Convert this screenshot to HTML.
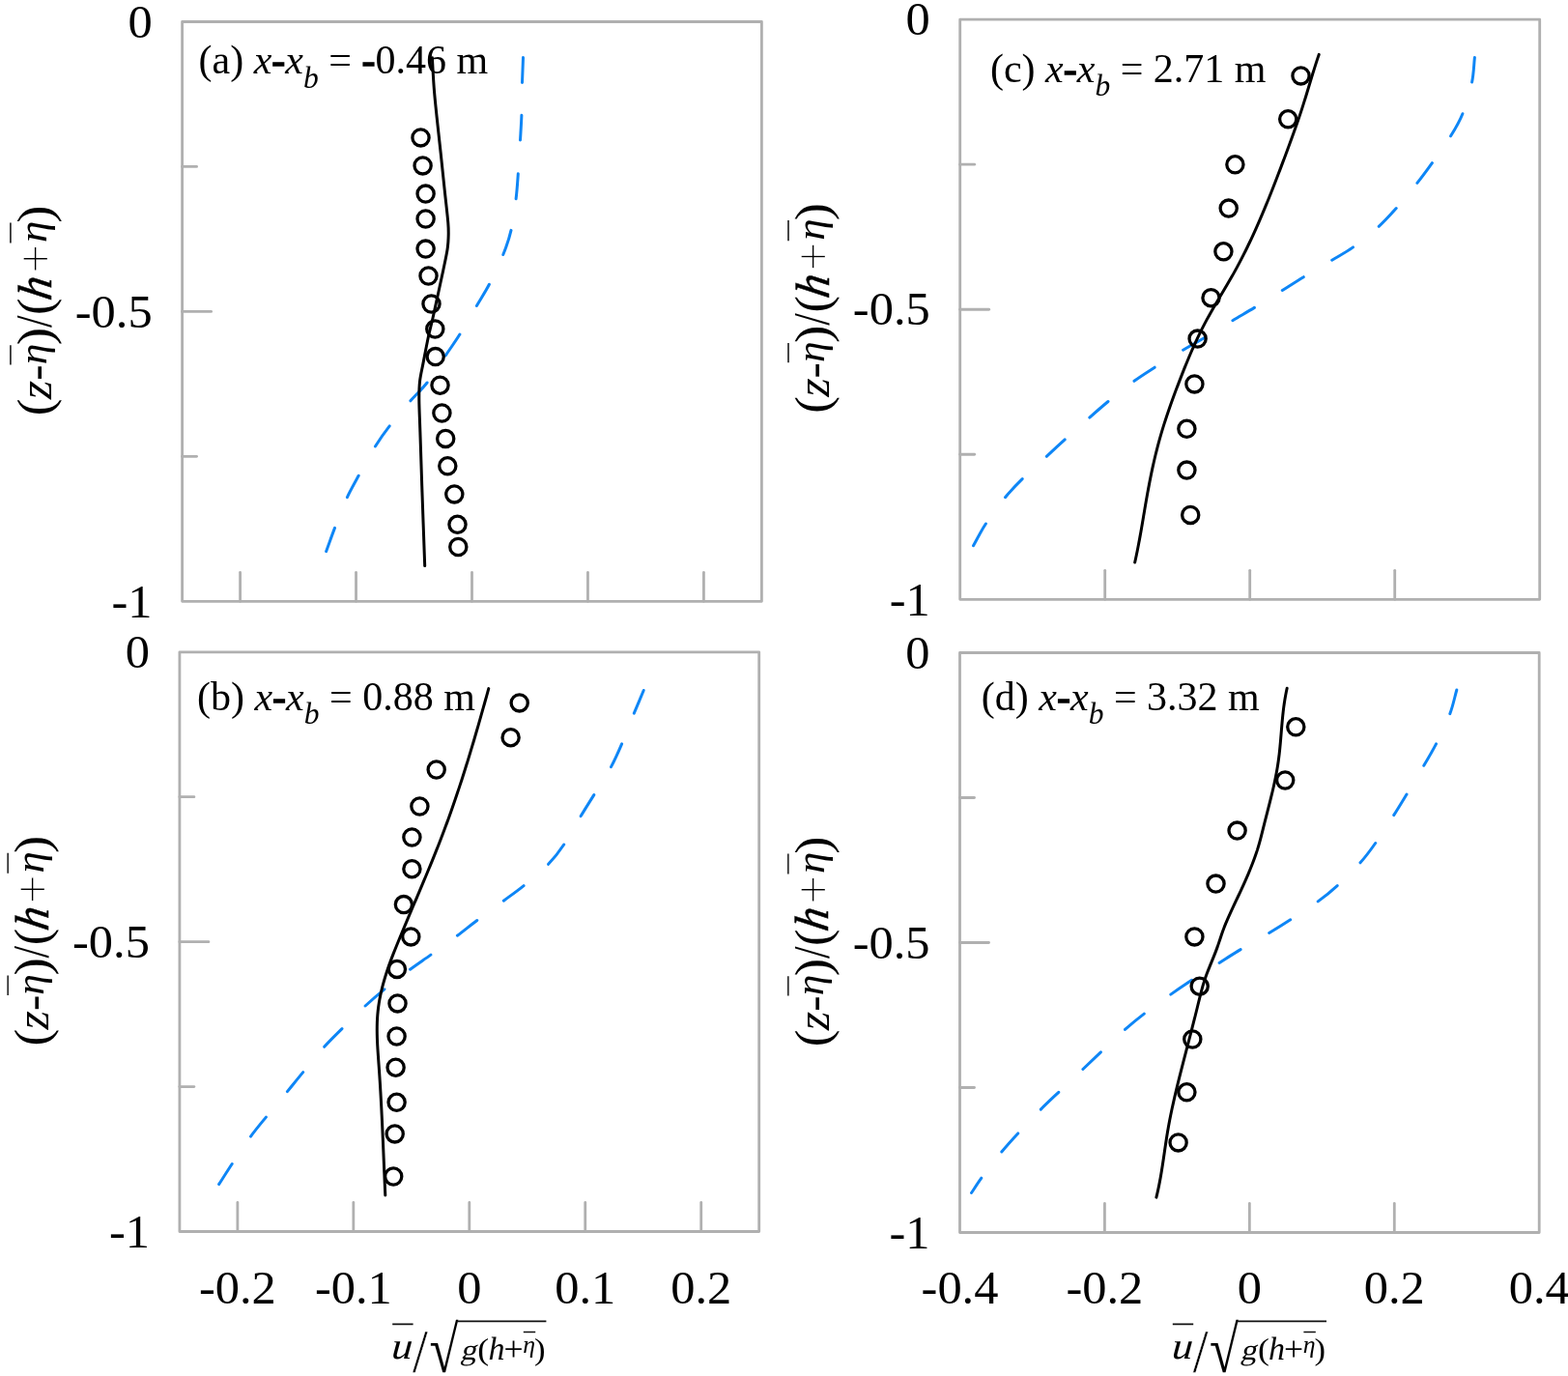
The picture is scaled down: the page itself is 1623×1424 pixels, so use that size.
<!DOCTYPE html>
<html><head><meta charset="utf-8"><title>Velocity profiles</title>
<style>html,body{margin:0;padding:0;background:#fff;overflow:hidden}svg{display:block}text{font-family:"Liberation Serif","Times New Roman",serif;fill:#000}</style></head><body>
<svg width="1623" height="1424" viewBox="0 0 1623 1424">
<rect width="1623" height="1424" fill="#fff"/>
<g><rect x="188.60" y="22.50" width="599.80" height="599.80" fill="none" stroke="#b0b0b0" stroke-width="2.8" stroke-linejoin="round"/><line x1="188.60" y1="172.45" x2="203.60" y2="172.45" stroke="#b0b0b0" stroke-width="2.8" stroke-linecap="round"/><line x1="188.60" y1="322.40" x2="218.60" y2="322.40" stroke="#b0b0b0" stroke-width="2.8" stroke-linecap="round"/><line x1="188.60" y1="472.35" x2="203.60" y2="472.35" stroke="#b0b0b0" stroke-width="2.8" stroke-linecap="round"/><line x1="248.58" y1="622.30" x2="248.58" y2="592.30" stroke="#b0b0b0" stroke-width="2.8" stroke-linecap="round"/><line x1="368.54" y1="622.30" x2="368.54" y2="592.30" stroke="#b0b0b0" stroke-width="2.8" stroke-linecap="round"/><line x1="488.50" y1="622.30" x2="488.50" y2="592.30" stroke="#b0b0b0" stroke-width="2.8" stroke-linecap="round"/><line x1="608.46" y1="622.30" x2="608.46" y2="592.30" stroke="#b0b0b0" stroke-width="2.8" stroke-linecap="round"/><line x1="728.42" y1="622.30" x2="728.42" y2="592.30" stroke="#b0b0b0" stroke-width="2.8" stroke-linecap="round"/></g>
<text transform="translate(157.60 38.70) scale(1.040 1)" font-size="48.5" text-anchor="end">0</text>
<text transform="translate(157.60 338.60) scale(1.040 1)" font-size="48.5" text-anchor="end">-0.5</text>
<text transform="translate(157.60 638.50) scale(1.040 1)" font-size="48.5" text-anchor="end">-1</text>
<path d="M541.5 59.6C541.2 68.2 540.8 76.9 540.5 85.5M539.9 119.3C539.6 127.9 539.0 136.4 538.5 145.0M536.3 179.8C535.7 188.4 535.2 197.1 534.1 205.7M529.0 238.4C527.0 247.0 524.1 255.4 520.8 263.5M506.4 294.3C502.5 301.9 497.7 309.1 493.4 316.5M475.9 346.0C471.3 353.4 466.2 360.5 461.3 367.8M442.1 396.0C436.9 402.7 430.5 408.4 424.9 414.8M403.2 440.9C397.9 447.7 393.0 454.7 388.4 462.0M371.2 492.2C367.1 499.6 362.9 506.9 359.4 514.6M346.5 546.4C343.4 554.5 340.6 562.6 337.6 570.7" fill="none" stroke="#0e86f6" stroke-width="3.0" stroke-linecap="round"/>
<path d="M447.40 59.70 C447.70 64.85 448.43 80.55 449.20 90.60 C449.97 100.65 450.82 108.52 452.00 120.00 C453.18 131.48 454.93 146.73 456.30 159.50 C457.67 172.27 458.95 184.75 460.20 196.60 C461.45 208.45 463.15 222.37 463.80 230.60 C464.45 238.83 464.23 241.37 464.10 246.00 C463.97 250.63 463.90 252.73 463.00 258.40 C462.10 264.07 460.28 272.40 458.70 280.00 C457.12 287.60 455.32 295.67 453.50 304.00 C451.68 312.33 449.47 322.67 447.80 330.00 C446.13 337.33 445.13 340.35 443.50 348.00 C441.87 355.65 439.50 368.08 438.00 375.90 C436.50 383.72 435.20 388.58 434.50 394.90 C433.80 401.22 433.73 405.02 433.80 413.80 C433.87 422.58 434.37 431.43 434.90 447.60 C435.43 463.77 436.20 487.80 437.00 510.80 C437.80 533.80 439.25 573.13 439.70 585.60" fill="none" stroke="#000" stroke-width="3" stroke-linecap="round" stroke-linejoin="round"/>
<g fill="none" stroke="#000" stroke-width="3.3"><circle cx="435.5" cy="142.4" r="8.6"/><circle cx="437.6" cy="171.4" r="8.6"/><circle cx="440.6" cy="200.6" r="8.6"/><circle cx="440.6" cy="226.5" r="8.6"/><circle cx="440.6" cy="257.6" r="8.6"/><circle cx="443.5" cy="285.5" r="8.6"/><circle cx="446.5" cy="314.5" r="8.6"/><circle cx="450.3" cy="340.5" r="8.6"/><circle cx="450.7" cy="369.1" r="8.6"/><circle cx="455.5" cy="398.7" r="8.6"/><circle cx="457.4" cy="427.5" r="8.6"/><circle cx="461.2" cy="453.9" r="8.6"/><circle cx="463.3" cy="482.3" r="8.6"/><circle cx="470.3" cy="511.4" r="8.6"/><circle cx="473.5" cy="542.8" r="8.6"/><circle cx="474.3" cy="566.0" r="8.6"/></g>
<text x="205.55" y="76.40" font-size="42">(a) <tspan font-style="italic">x</tspan><tspan stroke="#000" stroke-width="1.3">-</tspan><tspan font-style="italic">x</tspan><tspan font-style="italic" font-size="31.5" dy="14.1">b</tspan><tspan dy="-14.1"> = </tspan><tspan stroke="#000" stroke-width="1.3">-</tspan>0.46 m</text>
<g><text transform="translate(53.10 430.14) rotate(-90) scale(1.0515 1)" font-size="50.73">(</text><text transform="translate(52.70 413.14) rotate(-90) scale(1.0494 1)" font-size="47.50" font-style="italic">z</text><text transform="translate(52.75 393.81) rotate(-90) scale(1.0146 1)" font-size="48.19">-</text><text transform="translate(47.53 377.35) rotate(-90) scale(1.0698 1)" font-size="40.61" font-style="italic">η</text><text transform="translate(52.87 357.28) rotate(-90) scale(1.0970 1)" font-size="50.40">)</text><text transform="translate(52.98 339.10) rotate(-90) scale(0.8570 1)" font-size="52.92">/</text><text transform="translate(52.87 325.91) rotate(-90) scale(1.0429 1)" font-size="50.40">(</text><text transform="translate(52.50 309.09) rotate(-90) translate(0 -17.15) skewX(-9.0) translate(0 17.15) scale(0.9483 1)" font-size="49.43" font-style="italic" stroke="#000" stroke-width="0.5">h</text><text transform="translate(54.73 282.85) rotate(-90) scale(0.9548 1)" font-size="55.82" stroke="#fff" stroke-width="1.3">+</text><text transform="translate(47.78 251.10) rotate(-90) scale(1.0855 1)" font-size="41.34" font-style="italic">η</text><text transform="translate(53.00 230.67) rotate(-90) scale(1.0821 1)" font-size="50.73">)</text></g>
<path d="M10.90 357.20V377.60M10.90 230.40V251.50" stroke="#333" stroke-width="1.8" fill="none"/>
<g><rect x="185.90" y="674.80" width="599.80" height="599.70" fill="none" stroke="#b0b0b0" stroke-width="2.8" stroke-linejoin="round"/><line x1="185.90" y1="824.72" x2="200.90" y2="824.72" stroke="#b0b0b0" stroke-width="2.8" stroke-linecap="round"/><line x1="185.90" y1="974.65" x2="215.90" y2="974.65" stroke="#b0b0b0" stroke-width="2.8" stroke-linecap="round"/><line x1="185.90" y1="1124.58" x2="200.90" y2="1124.58" stroke="#b0b0b0" stroke-width="2.8" stroke-linecap="round"/><line x1="245.88" y1="1274.50" x2="245.88" y2="1244.50" stroke="#b0b0b0" stroke-width="2.8" stroke-linecap="round"/><line x1="365.84" y1="1274.50" x2="365.84" y2="1244.50" stroke="#b0b0b0" stroke-width="2.8" stroke-linecap="round"/><line x1="485.80" y1="1274.50" x2="485.80" y2="1244.50" stroke="#b0b0b0" stroke-width="2.8" stroke-linecap="round"/><line x1="605.76" y1="1274.50" x2="605.76" y2="1244.50" stroke="#b0b0b0" stroke-width="2.8" stroke-linecap="round"/><line x1="725.72" y1="1274.50" x2="725.72" y2="1244.50" stroke="#b0b0b0" stroke-width="2.8" stroke-linecap="round"/></g>
<text transform="translate(154.90 691.00) scale(1.040 1)" font-size="48.5" text-anchor="end">0</text>
<text transform="translate(154.90 990.85) scale(1.040 1)" font-size="48.5" text-anchor="end">-0.5</text>
<text transform="translate(154.90 1290.70) scale(1.040 1)" font-size="48.5" text-anchor="end">-1</text>
<text transform="translate(245.88 1349.00) scale(1.040 1)" font-size="48.5" text-anchor="middle">-0.2</text>
<text transform="translate(365.84 1349.00) scale(1.040 1)" font-size="48.5" text-anchor="middle">-0.1</text>
<text transform="translate(485.80 1349.00) scale(1.040 1)" font-size="48.5" text-anchor="middle">0</text>
<text transform="translate(605.76 1349.00) scale(1.040 1)" font-size="48.5" text-anchor="middle">0.1</text>
<text transform="translate(725.72 1349.00) scale(1.040 1)" font-size="48.5" text-anchor="middle">0.2</text>
<path d="M666.2 714.5C662.9 722.4 659.6 730.3 656.3 738.2M643.6 769.9C640.2 777.9 636.7 785.9 632.5 793.6M614.8 822.6C610.3 829.9 605.6 837.2 601.2 844.6M583.7 874.0C578.9 881.2 573.6 888.1 567.6 894.3M542.1 916.6C535.4 922.1 528.3 927.0 521.3 932.2M493.8 952.5C486.9 957.6 480.3 963.1 473.4 968.2M445.9 988.1C438.8 993.2 431.5 998.0 424.5 1003.2M397.9 1023.8C391.1 1029.3 384.5 1035.0 378.1 1041.0M354.0 1064.6C347.8 1070.8 341.5 1076.8 335.7 1083.3M313.7 1109.6C308.2 1116.2 302.8 1123.0 297.4 1129.6M275.4 1156.1C270.0 1162.7 264.5 1169.2 259.5 1176.1M240.2 1204.5C235.6 1211.5 231.1 1218.6 226.6 1225.6" fill="none" stroke="#0e86f6" stroke-width="3.0" stroke-linecap="round"/>
<path d="M505.78 712.60 L504.68 716.57 L503.58 720.54 L502.47 724.52 L501.36 728.49 L500.25 732.46 L499.13 736.43 L498.00 740.40 L496.87 744.38 L495.73 748.35 L494.59 752.32 L493.44 756.29 L492.28 760.26 L491.12 764.24 L489.94 768.21 L488.76 772.18 L487.56 776.15 L486.36 780.12 L485.15 784.10 L483.93 788.07 L482.69 792.04 L481.45 796.01 L480.19 799.98 L478.92 803.96 L477.64 807.93 L476.34 811.90 L475.03 815.87 L473.71 819.84 L472.37 823.82 L471.02 827.79 L469.65 831.76 L468.27 835.73 L466.87 839.70 L465.46 843.68 L464.03 847.65 L462.58 851.62 L461.11 855.59 L459.63 859.56 L458.12 863.53 L456.60 867.51 L455.06 871.48 L453.50 875.45 L451.93 879.42 L450.34 883.39 L448.74 887.37 L447.12 891.34 L445.49 895.31 L443.85 899.28 L442.21 903.25 L440.55 907.23 L438.89 911.20 L437.22 915.17 L435.54 919.14 L433.86 923.11 L432.17 927.09 L430.49 931.06 L428.80 935.03 L427.11 939.00 L425.43 942.97 L423.74 946.95 L422.06 950.92 L420.39 954.89 L418.71 958.86 L417.05 962.83 L415.39 966.81 L413.74 970.78 L412.10 974.75 L410.48 978.72 L408.87 982.69 L407.30 986.67 L405.76 990.64 L404.26 994.61 L402.82 998.58 L401.43 1002.55 L400.11 1006.53 L398.85 1010.50 L397.66 1014.47 L396.55 1018.44 L395.52 1022.41 L394.57 1026.39 L393.70 1030.36 L392.93 1034.33 L392.25 1038.30 L391.67 1042.27 L391.20 1046.25 L390.83 1050.22 L390.55 1054.19 L390.37 1058.16 L390.28 1062.13 L390.25 1066.11 L390.30 1070.08 L390.40 1074.05 L390.55 1078.02 L390.75 1081.99 L390.98 1085.97 L391.23 1089.94 L391.51 1093.91 L391.79 1097.88 L392.08 1101.85 L392.36 1105.83 L392.63 1109.80 L392.89 1113.77 L393.15 1117.74 L393.40 1121.71 L393.64 1125.68 L393.87 1129.66 L394.09 1133.63 L394.31 1137.60 L394.53 1141.57 L394.74 1145.54 L394.94 1149.52 L395.14 1153.49 L395.33 1157.46 L395.52 1161.43 L395.71 1165.40 L395.89 1169.38 L396.07 1173.35 L396.24 1177.32 L396.42 1181.29 L396.59 1185.26 L396.76 1189.24 L396.93 1193.21 L397.09 1197.18 L397.26 1201.15 L397.43 1205.12 L397.59 1209.10 L397.76 1213.07 L397.93 1217.04 L398.09 1221.01 L398.26 1224.98 L398.44 1228.96 L398.61 1232.93 L398.79 1236.90" fill="none" stroke="#000" stroke-width="3" stroke-linecap="round" stroke-linejoin="round"/>
<g fill="none" stroke="#000" stroke-width="3.3"><circle cx="537.7" cy="727.4" r="8.6"/><circle cx="528.6" cy="763.2" r="8.6"/><circle cx="451.7" cy="796.5" r="8.6"/><circle cx="434.4" cy="834.5" r="8.6"/><circle cx="426.4" cy="866.5" r="8.6"/><circle cx="426.4" cy="899.2" r="8.6"/><circle cx="417.9" cy="936.1" r="8.6"/><circle cx="425.3" cy="969.4" r="8.6"/><circle cx="410.9" cy="1002.9" r="8.6"/><circle cx="411.5" cy="1038.4" r="8.6"/><circle cx="410.6" cy="1072.5" r="8.6"/><circle cx="409.6" cy="1104.7" r="8.6"/><circle cx="410.6" cy="1140.8" r="8.6"/><circle cx="408.7" cy="1173.4" r="8.6"/><circle cx="407.2" cy="1217.5" r="8.6"/></g>
<text x="203.95" y="735.00" font-size="42">(b) <tspan font-style="italic">x</tspan><tspan stroke="#000" stroke-width="1.3">-</tspan><tspan font-style="italic">x</tspan><tspan font-style="italic" font-size="31.5" dy="14.1">b</tspan><tspan dy="-14.1"> = </tspan>0.88 m</text>
<g><text transform="translate(50.40 1082.44) rotate(-90) scale(1.0515 1)" font-size="50.73">(</text><text transform="translate(50.00 1065.44) rotate(-90) scale(1.0494 1)" font-size="47.50" font-style="italic">z</text><text transform="translate(50.05 1046.11) rotate(-90) scale(1.0146 1)" font-size="48.19">-</text><text transform="translate(44.83 1029.65) rotate(-90) scale(1.0698 1)" font-size="40.61" font-style="italic">η</text><text transform="translate(50.17 1009.58) rotate(-90) scale(1.0970 1)" font-size="50.40">)</text><text transform="translate(50.28 991.40) rotate(-90) scale(0.8570 1)" font-size="52.92">/</text><text transform="translate(50.17 978.21) rotate(-90) scale(1.0429 1)" font-size="50.40">(</text><text transform="translate(49.80 961.39) rotate(-90) translate(0 -17.15) skewX(-9.0) translate(0 17.15) scale(0.9483 1)" font-size="49.43" font-style="italic" stroke="#000" stroke-width="0.5">h</text><text transform="translate(52.03 935.15) rotate(-90) scale(0.9548 1)" font-size="55.82" stroke="#fff" stroke-width="1.3">+</text><text transform="translate(45.08 903.40) rotate(-90) scale(1.0855 1)" font-size="41.34" font-style="italic">η</text><text transform="translate(50.30 882.97) rotate(-90) scale(1.0821 1)" font-size="50.73">)</text></g>
<path d="M8.20 1009.50V1029.90M8.20 882.70V903.80" stroke="#333" stroke-width="1.8" fill="none"/>
<g><text transform="translate(405.43 1405.95) translate(0 -8.65) skewX(-4.0) translate(0 8.65) scale(1.1243 1)" font-size="38.67" font-style="italic">u</text><text transform="translate(427.10 1419.98) scale(0.8972 1)" font-size="63.38" stroke="#fff" stroke-width="0.4">/</text><text transform="translate(444.44 1420.43) scale(0.7978 1)" font-size="68.31">√</text><text transform="translate(477.18 1407.12) translate(0 -4.47) skewX(-13.0) translate(0 4.47) scale(1.1020 1)" font-size="30.04">g</text><text transform="translate(494.33 1406.89) scale(1.1357 1)" font-size="31.54">(</text><text transform="translate(505.47 1406.80) scale(1.0241 1)" font-size="33.29" font-style="italic">h</text><text transform="translate(521.52 1408.25) scale(0.9951 1)" font-size="35.85">+</text><text transform="translate(541.18 1399.79) scale(1.0567 1)" font-size="24.39" font-style="italic">η</text><text transform="translate(552.98 1406.89) scale(1.0986 1)" font-size="31.54">)</text></g>
<path d="M406.20 1370.4H427.60M473.00 1367.4H565.40M541.80 1378.5H554.20" stroke="#111" stroke-width="1.6" fill="none"/>
<g><rect x="993.70" y="20.20" width="600.00" height="600.10" fill="none" stroke="#b0b0b0" stroke-width="2.8" stroke-linejoin="round"/><line x1="993.70" y1="170.22" x2="1008.70" y2="170.22" stroke="#b0b0b0" stroke-width="2.8" stroke-linecap="round"/><line x1="993.70" y1="320.25" x2="1023.70" y2="320.25" stroke="#b0b0b0" stroke-width="2.8" stroke-linecap="round"/><line x1="993.70" y1="470.27" x2="1008.70" y2="470.27" stroke="#b0b0b0" stroke-width="2.8" stroke-linecap="round"/><line x1="1143.70" y1="620.30" x2="1143.70" y2="590.30" stroke="#b0b0b0" stroke-width="2.8" stroke-linecap="round"/><line x1="1293.70" y1="620.30" x2="1293.70" y2="590.30" stroke="#b0b0b0" stroke-width="2.8" stroke-linecap="round"/><line x1="1443.70" y1="620.30" x2="1443.70" y2="590.30" stroke="#b0b0b0" stroke-width="2.8" stroke-linecap="round"/></g>
<text transform="translate(962.70 36.40) scale(1.040 1)" font-size="48.5" text-anchor="end">0</text>
<text transform="translate(962.70 336.45) scale(1.040 1)" font-size="48.5" text-anchor="end">-0.5</text>
<text transform="translate(962.70 636.50) scale(1.040 1)" font-size="48.5" text-anchor="end">-1</text>
<path d="M1526.4 59.4C1525.5 67.9 1525.4 76.6 1523.6 85.0M1513.9 117.7C1510.7 125.8 1506.2 133.4 1501.6 140.8M1482.4 168.6C1477.4 175.6 1472.3 182.6 1466.9 189.4M1445.2 215.5C1439.4 222.0 1433.6 228.5 1427.2 234.3M1400.5 255.9C1393.6 260.9 1386.0 264.8 1378.7 269.2M1349.3 286.7C1341.9 291.2 1334.6 295.9 1327.3 300.5M1298.4 318.4C1291.0 322.9 1283.4 327.2 1275.9 331.7M1247.2 349.3C1239.8 353.8 1232.0 357.7 1224.6 362.2M1195.2 380.2C1188.1 384.8 1180.8 389.3 1174.0 394.3M1147.0 415.5C1140.5 420.9 1134.1 426.5 1127.8 432.1M1102.2 454.9C1095.9 460.7 1089.6 466.5 1083.3 472.3M1058.2 495.6C1052.0 501.7 1046.0 508.0 1040.5 514.7M1020.4 542.0C1015.6 549.2 1011.8 557.1 1007.5 564.7" fill="none" stroke="#0e86f6" stroke-width="3.0" stroke-linecap="round"/>
<path d="M1365.20 56.40 L1363.85 60.38 L1362.54 64.36 L1361.26 68.35 L1360.01 72.33 L1358.77 76.31 L1357.56 80.29 L1356.35 84.27 L1355.14 88.25 L1353.94 92.24 L1352.73 96.22 L1351.52 100.20 L1350.29 104.18 L1349.04 108.16 L1347.76 112.15 L1346.46 116.13 L1345.13 120.11 L1343.77 124.09 L1342.39 128.07 L1340.98 132.05 L1339.56 136.04 L1338.12 140.02 L1336.67 144.00 L1335.21 147.98 L1333.74 151.96 L1332.27 155.95 L1330.79 159.93 L1329.30 163.91 L1327.81 167.89 L1326.32 171.87 L1324.81 175.85 L1323.29 179.84 L1321.77 183.82 L1320.23 187.80 L1318.67 191.78 L1317.11 195.76 L1315.53 199.75 L1313.93 203.73 L1312.32 207.71 L1310.69 211.69 L1309.04 215.67 L1307.37 219.65 L1305.68 223.64 L1303.97 227.62 L1302.24 231.60 L1300.48 235.58 L1298.69 239.56 L1296.87 243.55 L1295.02 247.53 L1293.14 251.51 L1291.22 255.49 L1289.27 259.47 L1287.28 263.45 L1285.24 267.44 L1283.17 271.42 L1281.05 275.40 L1278.88 279.38 L1276.67 283.36 L1274.41 287.35 L1272.10 291.33 L1269.77 295.31 L1267.42 299.29 L1265.05 303.27 L1262.68 307.25 L1260.32 311.24 L1257.98 315.22 L1255.66 319.20 L1253.38 323.18 L1251.14 327.16 L1248.96 331.15 L1246.84 335.13 L1244.78 339.11 L1242.78 343.09 L1240.84 347.07 L1238.95 351.05 L1237.10 355.04 L1235.31 359.02 L1233.55 363.00 L1231.83 366.98 L1230.15 370.96 L1228.50 374.95 L1226.88 378.93 L1225.28 382.91 L1223.70 386.89 L1222.14 390.87 L1220.60 394.85 L1219.07 398.84 L1217.56 402.82 L1216.07 406.80 L1214.60 410.78 L1213.16 414.76 L1211.73 418.75 L1210.34 422.73 L1208.97 426.71 L1207.62 430.69 L1206.31 434.67 L1205.03 438.65 L1203.79 442.64 L1202.57 446.62 L1201.40 450.60 L1200.26 454.58 L1199.16 458.56 L1198.11 462.55 L1197.09 466.53 L1196.10 470.51 L1195.15 474.49 L1194.23 478.47 L1193.34 482.45 L1192.48 486.44 L1191.64 490.42 L1190.83 494.40 L1190.04 498.38 L1189.27 502.36 L1188.52 506.35 L1187.79 510.33 L1187.08 514.31 L1186.37 518.29 L1185.68 522.27 L1185.00 526.25 L1184.33 530.24 L1183.65 534.22 L1182.98 538.20 L1182.30 542.18 L1181.62 546.16 L1180.93 550.15 L1180.22 554.13 L1179.50 558.11 L1178.76 562.09 L1177.99 566.07 L1177.21 570.05 L1176.39 574.04 L1175.54 578.02 L1174.66 582.00" fill="none" stroke="#000" stroke-width="3" stroke-linecap="round" stroke-linejoin="round"/>
<g fill="none" stroke="#000" stroke-width="3.3"><circle cx="1346.5" cy="78.4" r="8.6"/><circle cx="1333.2" cy="123.3" r="8.6"/><circle cx="1278.4" cy="170.3" r="8.6"/><circle cx="1271.7" cy="215.6" r="8.6"/><circle cx="1266.4" cy="260.3" r="8.6"/><circle cx="1253.5" cy="308.2" r="8.6"/><circle cx="1239.6" cy="350.6" r="8.6"/><circle cx="1236.4" cy="397.4" r="8.6"/><circle cx="1228.4" cy="443.8" r="8.6"/><circle cx="1228.4" cy="486.6" r="8.6"/><circle cx="1232.2" cy="532.9" r="8.6"/></g>
<text x="1024.95" y="85.00" font-size="42">(c) <tspan font-style="italic">x</tspan><tspan stroke="#000" stroke-width="1.3">-</tspan><tspan font-style="italic">x</tspan><tspan font-style="italic" font-size="31.5" dy="14.1">b</tspan><tspan dy="-14.1"> = </tspan>2.71 m</text>
<g><text transform="translate(858.20 427.84) rotate(-90) scale(1.0515 1)" font-size="50.73">(</text><text transform="translate(857.80 410.84) rotate(-90) scale(1.0494 1)" font-size="47.50" font-style="italic">z</text><text transform="translate(857.85 391.51) rotate(-90) scale(1.0146 1)" font-size="48.19">-</text><text transform="translate(852.63 375.05) rotate(-90) scale(1.0698 1)" font-size="40.61" font-style="italic">η</text><text transform="translate(857.97 354.98) rotate(-90) scale(1.0970 1)" font-size="50.40">)</text><text transform="translate(858.08 336.80) rotate(-90) scale(0.8570 1)" font-size="52.92">/</text><text transform="translate(857.97 323.61) rotate(-90) scale(1.0429 1)" font-size="50.40">(</text><text transform="translate(857.60 306.79) rotate(-90) translate(0 -17.15) skewX(-9.0) translate(0 17.15) scale(0.9483 1)" font-size="49.43" font-style="italic" stroke="#000" stroke-width="0.5">h</text><text transform="translate(859.83 280.55) rotate(-90) scale(0.9548 1)" font-size="55.82" stroke="#fff" stroke-width="1.3">+</text><text transform="translate(852.88 248.80) rotate(-90) scale(1.0855 1)" font-size="41.34" font-style="italic">η</text><text transform="translate(858.10 228.37) rotate(-90) scale(1.0821 1)" font-size="50.73">)</text></g>
<path d="M816.00 354.90V375.30M816.00 228.10V249.20" stroke="#333" stroke-width="1.8" fill="none"/>
<g><rect x="993.50" y="675.50" width="599.70" height="600.00" fill="none" stroke="#b0b0b0" stroke-width="2.8" stroke-linejoin="round"/><line x1="993.50" y1="825.50" x2="1008.50" y2="825.50" stroke="#b0b0b0" stroke-width="2.8" stroke-linecap="round"/><line x1="993.50" y1="975.50" x2="1023.50" y2="975.50" stroke="#b0b0b0" stroke-width="2.8" stroke-linecap="round"/><line x1="993.50" y1="1125.50" x2="1008.50" y2="1125.50" stroke="#b0b0b0" stroke-width="2.8" stroke-linecap="round"/><line x1="1143.42" y1="1275.50" x2="1143.42" y2="1245.50" stroke="#b0b0b0" stroke-width="2.8" stroke-linecap="round"/><line x1="1293.35" y1="1275.50" x2="1293.35" y2="1245.50" stroke="#b0b0b0" stroke-width="2.8" stroke-linecap="round"/><line x1="1443.28" y1="1275.50" x2="1443.28" y2="1245.50" stroke="#b0b0b0" stroke-width="2.8" stroke-linecap="round"/></g>
<text transform="translate(962.50 691.70) scale(1.040 1)" font-size="48.5" text-anchor="end">0</text>
<text transform="translate(962.50 991.70) scale(1.040 1)" font-size="48.5" text-anchor="end">-0.5</text>
<text transform="translate(962.50 1291.70) scale(1.040 1)" font-size="48.5" text-anchor="end">-1</text>
<text transform="translate(993.50 1349.00) scale(1.040 1)" font-size="48.5" text-anchor="middle">-0.4</text>
<text transform="translate(1143.42 1349.00) scale(1.040 1)" font-size="48.5" text-anchor="middle">-0.2</text>
<text transform="translate(1293.35 1349.00) scale(1.040 1)" font-size="48.5" text-anchor="middle">0</text>
<text transform="translate(1443.28 1349.00) scale(1.040 1)" font-size="48.5" text-anchor="middle">0.2</text>
<text transform="translate(1593.20 1349.00) scale(1.040 1)" font-size="48.5" text-anchor="middle">0.4</text>
<path d="M1507.8 714.0C1505.5 722.2 1503.9 730.7 1500.8 738.7M1486.5 769.9C1482.6 777.5 1478.2 784.9 1473.8 792.3M1456.0 822.0C1451.6 829.2 1447.2 836.5 1442.7 843.6M1423.7 872.5C1418.8 879.5 1413.7 886.4 1408.0 892.8M1384.2 916.6C1377.9 922.4 1371.2 927.9 1364.2 932.9M1335.7 951.8C1328.5 956.5 1321.1 961.1 1313.7 965.5M1284.1 982.6C1276.7 987.0 1269.4 991.8 1262.1 996.4M1233.6 1014.3C1226.2 1019.1 1219.0 1024.0 1211.8 1029.1M1184.3 1049.1C1177.5 1054.3 1170.9 1059.7 1164.5 1065.4M1139.4 1088.8C1133.2 1094.7 1127.0 1100.6 1120.9 1106.5M1095.8 1130.3C1089.6 1136.2 1083.3 1142.0 1077.3 1148.1M1053.7 1172.9C1047.9 1179.1 1042.2 1185.4 1036.8 1192.0M1015.8 1219.2C1012.2 1224.2 1008.9 1229.4 1005.5 1234.5" fill="none" stroke="#0e86f6" stroke-width="3.0" stroke-linecap="round"/>
<path d="M1332.16 712.20 L1331.31 716.19 L1330.55 720.18 L1329.87 724.18 L1329.26 728.17 L1328.72 732.16 L1328.24 736.15 L1327.80 740.14 L1327.40 744.13 L1327.04 748.12 L1326.69 752.12 L1326.36 756.11 L1326.03 760.10 L1325.70 764.09 L1325.36 768.08 L1324.99 772.08 L1324.60 776.07 L1324.17 780.06 L1323.69 784.05 L1323.15 788.04 L1322.56 792.03 L1321.90 796.03 L1321.18 800.02 L1320.41 804.01 L1319.59 808.00 L1318.73 811.99 L1317.84 815.98 L1316.90 819.98 L1315.94 823.97 L1314.96 827.96 L1313.96 831.95 L1312.94 835.94 L1311.92 839.93 L1310.89 843.92 L1309.86 847.92 L1308.84 851.91 L1307.83 855.90 L1306.83 859.89 L1305.82 863.88 L1304.79 867.88 L1303.71 871.87 L1302.56 875.86 L1301.34 879.85 L1300.02 883.84 L1298.62 887.83 L1297.14 891.83 L1295.59 895.82 L1293.98 899.81 L1292.31 903.80 L1290.59 907.79 L1288.83 911.78 L1287.03 915.77 L1285.20 919.77 L1283.36 923.76 L1281.49 927.75 L1279.63 931.74 L1277.76 935.73 L1275.91 939.73 L1274.06 943.72 L1272.25 947.71 L1270.47 951.70 L1268.75 955.69 L1267.13 959.68 L1265.62 963.67 L1264.24 967.67 L1262.92 971.66 L1261.61 975.65 L1260.25 979.64 L1258.79 983.63 L1257.24 987.62 L1255.63 991.62 L1254.00 995.61 L1252.37 999.60 L1250.77 1003.59 L1249.24 1007.58 L1247.79 1011.58 L1246.46 1015.57 L1245.24 1019.56 L1244.10 1023.55 L1243.02 1027.54 L1242.00 1031.53 L1241.02 1035.53 L1240.05 1039.52 L1239.08 1043.51 L1238.10 1047.50 L1237.11 1051.49 L1236.10 1055.48 L1235.09 1059.47 L1234.07 1063.47 L1233.04 1067.46 L1232.01 1071.45 L1230.97 1075.44 L1229.93 1079.43 L1228.89 1083.42 L1227.85 1087.42 L1226.81 1091.41 L1225.77 1095.40 L1224.73 1099.39 L1223.70 1103.38 L1222.68 1107.38 L1221.66 1111.37 L1220.65 1115.36 L1219.66 1119.35 L1218.67 1123.34 L1217.70 1127.33 L1216.75 1131.32 L1215.82 1135.32 L1214.91 1139.31 L1214.02 1143.30 L1213.15 1147.29 L1212.31 1151.28 L1211.49 1155.28 L1210.70 1159.27 L1209.95 1163.26 L1209.23 1167.25 L1208.54 1171.24 L1207.88 1175.23 L1207.25 1179.22 L1206.64 1183.22 L1206.05 1187.21 L1205.46 1191.20 L1204.88 1195.19 L1204.29 1199.18 L1203.70 1203.17 L1203.08 1207.17 L1202.45 1211.16 L1201.79 1215.15 L1201.09 1219.14 L1200.36 1223.13 L1199.58 1227.12 L1198.74 1231.12 L1197.85 1235.11 L1196.90 1239.10" fill="none" stroke="#000" stroke-width="3" stroke-linecap="round" stroke-linejoin="round"/>
<g fill="none" stroke="#000" stroke-width="3.3"><circle cx="1341.3" cy="752.3" r="8.6"/><circle cx="1330.2" cy="807.5" r="8.6"/><circle cx="1280.6" cy="859.6" r="8.6"/><circle cx="1258.5" cy="914.6" r="8.6"/><circle cx="1236.4" cy="969.4" r="8.6"/><circle cx="1241.7" cy="1020.7" r="8.6"/><circle cx="1234.3" cy="1075.5" r="8.6"/><circle cx="1228.4" cy="1130.3" r="8.6"/><circle cx="1219.6" cy="1182.4" r="8.6"/></g>
<text x="1015.85" y="735.00" font-size="42">(d) <tspan font-style="italic">x</tspan><tspan stroke="#000" stroke-width="1.3">-</tspan><tspan font-style="italic">x</tspan><tspan font-style="italic" font-size="31.5" dy="14.1">b</tspan><tspan dy="-14.1"> = </tspan>3.32 m</text>
<g><text transform="translate(858.00 1083.14) rotate(-90) scale(1.0515 1)" font-size="50.73">(</text><text transform="translate(857.60 1066.14) rotate(-90) scale(1.0494 1)" font-size="47.50" font-style="italic">z</text><text transform="translate(857.65 1046.81) rotate(-90) scale(1.0146 1)" font-size="48.19">-</text><text transform="translate(852.43 1030.35) rotate(-90) scale(1.0698 1)" font-size="40.61" font-style="italic">η</text><text transform="translate(857.77 1010.28) rotate(-90) scale(1.0970 1)" font-size="50.40">)</text><text transform="translate(857.88 992.10) rotate(-90) scale(0.8570 1)" font-size="52.92">/</text><text transform="translate(857.77 978.91) rotate(-90) scale(1.0429 1)" font-size="50.40">(</text><text transform="translate(857.40 962.09) rotate(-90) translate(0 -17.15) skewX(-9.0) translate(0 17.15) scale(0.9483 1)" font-size="49.43" font-style="italic" stroke="#000" stroke-width="0.5">h</text><text transform="translate(859.63 935.85) rotate(-90) scale(0.9548 1)" font-size="55.82" stroke="#fff" stroke-width="1.3">+</text><text transform="translate(852.68 904.10) rotate(-90) scale(1.0855 1)" font-size="41.34" font-style="italic">η</text><text transform="translate(857.90 883.67) rotate(-90) scale(1.0821 1)" font-size="50.73">)</text></g>
<path d="M815.80 1010.20V1030.60M815.80 883.40V904.50" stroke="#333" stroke-width="1.8" fill="none"/>
<g><text transform="translate(1213.03 1405.95) translate(0 -8.65) skewX(-4.0) translate(0 8.65) scale(1.1243 1)" font-size="38.67" font-style="italic">u</text><text transform="translate(1234.70 1419.98) scale(0.8972 1)" font-size="63.38" stroke="#fff" stroke-width="0.4">/</text><text transform="translate(1252.04 1420.43) scale(0.7978 1)" font-size="68.31">√</text><text transform="translate(1284.78 1407.12) translate(0 -4.47) skewX(-13.0) translate(0 4.47) scale(1.1020 1)" font-size="30.04">g</text><text transform="translate(1301.93 1406.89) scale(1.1357 1)" font-size="31.54">(</text><text transform="translate(1313.07 1406.80) scale(1.0241 1)" font-size="33.29" font-style="italic">h</text><text transform="translate(1329.12 1408.25) scale(0.9951 1)" font-size="35.85">+</text><text transform="translate(1348.78 1399.79) scale(1.0567 1)" font-size="24.39" font-style="italic">η</text><text transform="translate(1360.58 1406.89) scale(1.0986 1)" font-size="31.54">)</text></g>
<path d="M1213.80 1370.4H1235.20M1280.60 1367.4H1373.00M1349.40 1378.5H1361.80" stroke="#111" stroke-width="1.6" fill="none"/>
</svg></body></html>
